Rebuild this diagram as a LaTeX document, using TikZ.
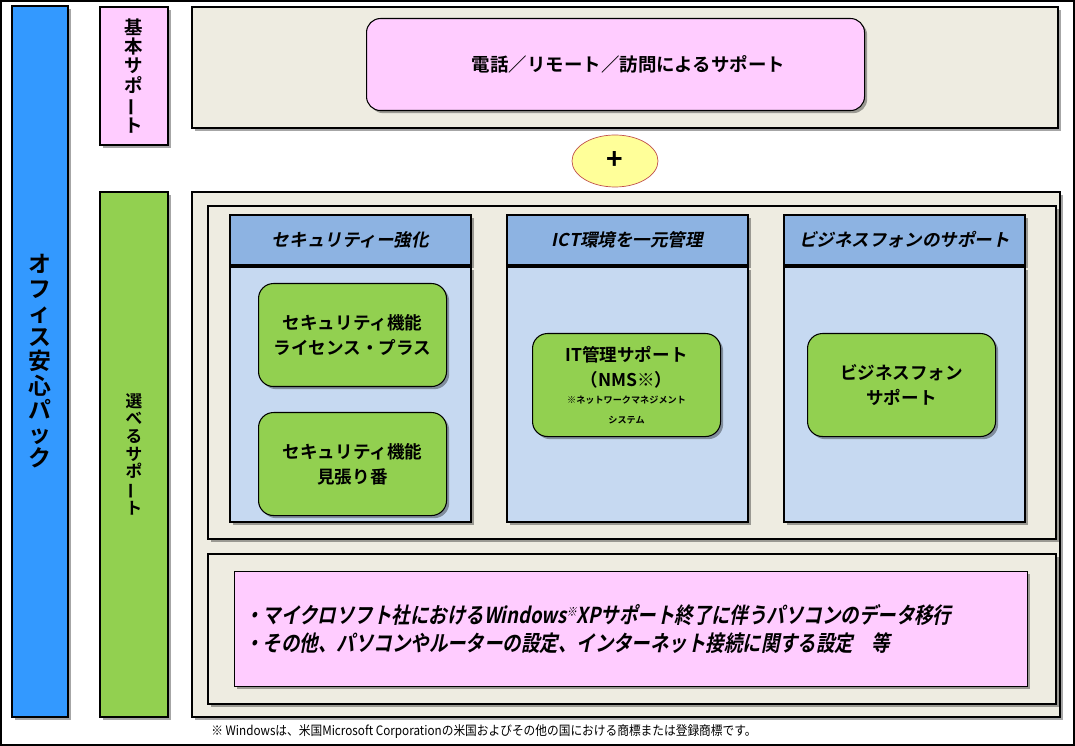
\documentclass[tikz,border=0pt]{standalone}
\usepackage{fontspec}
\usepackage{graphicx}
\usetikzlibrary{positioning,shapes.geometric,shadows}

\newfontfamily\jpbold{Noto Sans CJK JP Bold}
\newfontfamily\jpslant{Noto Sans CJK JP Bold}[FakeSlant=0.2]
\newfontfamily\jpnarrow{Noto Sans CJK JP Bold}[FakeSlant=0.2,FakeStretch=0.84]
\newfontfamily\jpnote{Noto Sans CJK JP}[FakeStretch=0.9]
\newcommand\tatebou{\rotatebox[origin=c]{90}{ー}}
\newcommand\tinytext{\fontsize{5.2}{7.5}\selectfont}

\definecolor{packblue}{HTML}{3399FF}
\definecolor{basepink}{HTML}{FFCCFF}
\definecolor{optgreen}{HTML}{92D050}
\definecolor{paper}{HTML}{EEECE1}
\definecolor{headblue}{HTML}{8DB3E2}
\definecolor{bodyblue}{HTML}{C6D9F1}
\definecolor{plusyellow}{HTML}{FFFF99}
\definecolor{plusred}{HTML}{C0504D}

\begin{document}
\begin{tikzpicture}[
  x=0.02cm, y=-0.02cm,
  font=\jpbold,
  shadowed/.style={drop shadow={shadow xshift=1.5pt, shadow yshift=-1.5pt, fill=black, opacity=0.35}},
  wh/.style 2 args={minimum width=#1*0.02cm, minimum height=#2*0.02cm},
  panel/.style={draw=black, line width=1.1pt, inner sep=0pt, anchor=north west, shadowed},
  bar/.style={panel, align=center},
  colbody/.style={panel, fill=bodyblue, wh={241}{255}},
  colhead/.style={panel, fill=headblue, wh={241}{50}, font=\jpslant\fontsize{10}{10}\selectfont},
  svc/.style={panel, fill=optgreen, line width=0.6pt, rounded corners=0.3cm, wh={188}{103}, align=center,
    font=\jpbold\fontsize{10}{14}\selectfont}
]
\useasboundingbox (0,0) rectangle (1075,746);
\draw[line width=0.04cm] (1,1) rectangle (1074,745);

% side bars
\node[bar, fill=packblue, wh={56}{711}, font=\jpbold\fontsize{13}{13.8}\selectfont] (pack) at (11,5)
  {オ\\フ\\ィ\\ス\\安\\心\\パ\\ッ\\ク};
\node[bar, fill=basepink, wh={68}{138}, font=\jpbold\fontsize{10.5}{11}\selectfont] (kihon) at (99,6)
  {基\\本\\サ\\ポ\\\tatebou\\ト};
\node[bar, fill=optgreen, wh={68}{525}, font=\jpbold\fontsize{9.5}{10}\selectfont] (erabu) at (99,191)
  {選\\べ\\る\\サ\\ポ\\\tatebou\\ト};

% basic support
\node[panel, fill=paper, wh={866}{121}] (baseframe) at (191,6) {};
\node[panel, fill=basepink, line width=0.6pt, rounded corners=0.28cm, wh={498}{92},
  font=\jpbold\fontsize{10.5}{11}\selectfont] (phone) at (366,18)
  {\hspace*{0.52cm}電話／リモート／訪問によるサポート};

\node[ellipse, draw=plusred, line width=0.4pt, fill=plusyellow, wh={86}{52}, inner sep=0pt,
  font=\jpbold\fontsize{16}{16}\selectfont] (plus) at (615,161) {+};

% optional support
\node[panel, fill=paper, wh={868}{525}] (optframe) at (191,191) {};
\node[panel, fill=paper, wh={848}{333}] (menuframe) at (207,205) {};

\node[colbody] (secbody) at (229,266) {};
\node[colhead, above=0pt of secbody] (sechead) {セキュリティー強化};
\node[colbody] (ictbody) at (506,266) {};
\node[colhead, above=0pt of ictbody] (icthead) {ICT環境を一元管理};
\node[colbody] (bizbody) at (783,266) {};
\node[colhead, above=0pt of bizbody] (bizhead) {ビジネスフォンのサポート};

\node[svc] (seclic) at (258,283) {セキュリティ機能\\ライセンス・プラス};
\node[svc] (secwatch) at (258,412) {セキュリティ機能\\見張り番};
\node[svc] (nms) at (532,333)
  {IT管理サポート\\（NMS※）\\[-4pt]
   \tinytext ※ネットワークマネジメント\\[-3pt]\tinytext システム};
\node[svc] (bizphone) at (807,333) {ビジネスフォン\\サポート};

\node[panel, fill=paper, wh={848}{150}] (otherframe) at (207,553) {};
\node[panel, fill=basepink, line width=0.6pt, wh={793}{115}, inner xsep=10*0.02cm,
  text width=773*0.02cm, align=left, font=\jpnarrow\fontsize{12.5}{15.8}\selectfont] (others) at (234,571)
  {・マイクロソフト社におけるWindows\raisebox{4pt}{\fontsize{7}{7}\selectfont ※}XPサポート終了に伴うパソコンのデータ移行\\
   ・その他、パソコンやルーターの設定、インターネット接続に関する設定　等};

\node[anchor=west, inner sep=0pt, font=\jpnote\fontsize{7.4}{8}\selectfont] (footnote) at (211,732)
  {※ Windowsは、米国Microsoft Corporationの米国およびその他の国における商標または登録商標です。};
\end{tikzpicture}
\end{document}
